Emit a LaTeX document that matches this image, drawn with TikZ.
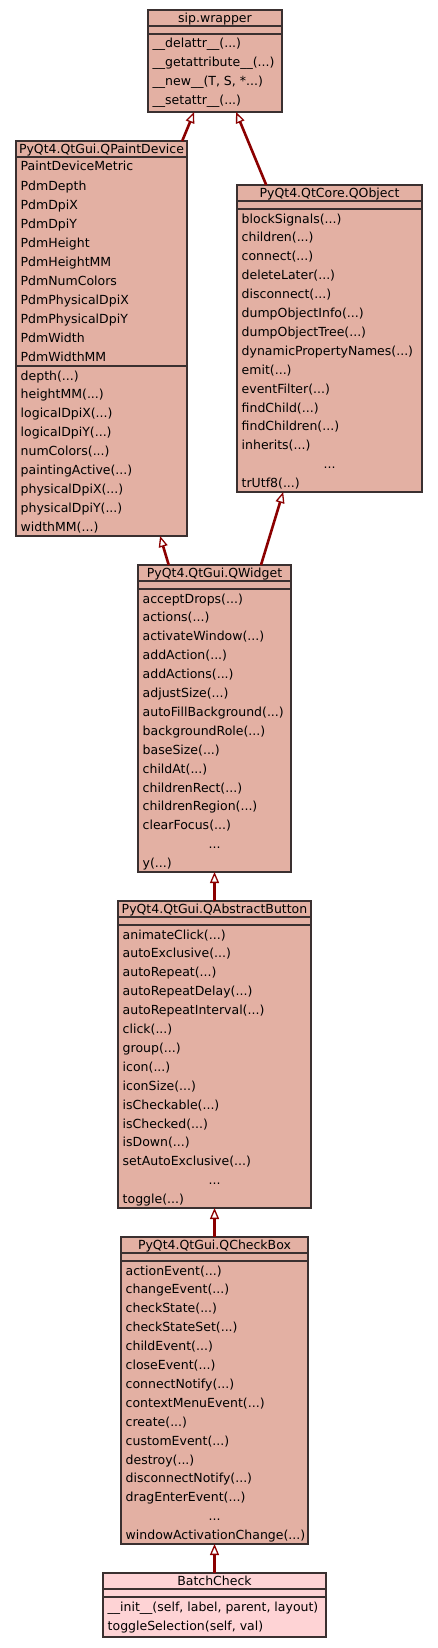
\documentclass[tikz,border=0pt]{standalone}
\usepackage{fontspec}
\setmainfont{DejaVu Sans}
\usetikzlibrary{arrows.meta}
\definecolor{clsfill}{HTML}{E3B0A3}
\definecolor{bcfill}{HTML}{FED3D5}
\definecolor{edgered}{HTML}{8B0000}
\definecolor{bord}{HTML}{3A3030}
\newcommand\dts{...}
\newcommand\midtxt[1]{\makebox[\curw][c]{#1}}
\tikzset{
  cls/.style={draw=bord, line width=1.5pt, inner sep=0pt, outer sep=0pt, anchor=north west},
  sepline/.style={draw=bord, line width=1.3pt},
  txt/.style={anchor=base west, inner sep=0pt, text=black},
  ttl/.style={anchor=base, inner sep=0pt, text=black},
  inh/.style={draw=edgered, line width=2.6pt,
    -{Triangle[fill=white, length=11pt, width=9pt, line width=1.3pt]}}
}
\newcommand\clsbox[9]{%
  \node[cls, fill=#8, minimum width={(#4-#2)*1pt}, minimum height={(#5-#3)*1pt}] (#1) at (#2,#3) {};
  \node[ttl] (#1-title) at ({(#2+#4)/2}, {(#3+#6)/2+4.5}) {#9};
  \draw[sepline] (#2,#6) -- (#4,#6);
  \draw[sepline] (#2,#7) -- (#4,#7);
}
\newcommand\mlist[6]{%
  \pgfmathsetlengthmacro\curw{(#4-9)*1pt}%
  \foreach \t [count=\i from 0] in {#5}
    \node[txt] (#1-\i) at (#2+4.5, #3+14+\i*#6) {\t};
}
\begin{document}
\begin{tikzpicture}[x=1pt, y=-1pt, font=\fontsize{12.5}{14}\selectfont]
\useasboundingbox[fill=white] (0,0) rectangle (437,1648);

% sip.wrapper
\clsbox{sip}{148}{10}{282}{112}{26}{34}{clsfill}{sip.wrapper}
\mlist{sipm}{148}{34}{134}{\_\_delattr\_\_(\dts), \_\_getattribute\_\_(\dts), {\_\_new\_\_(T, S, *\dts)}, \_\_setattr\_\_(\dts)}{19}

% QPaintDevice
\clsbox{pd}{16}{141}{187}{536}{157}{366}{clsfill}{PyQt4.QtGui.QPaintDevice}
\mlist{pda}{16}{157}{171}{PaintDeviceMetric, PdmDepth, PdmDpiX, PdmDpiY, PdmHeight, PdmHeightMM, PdmNumColors, PdmPhysicalDpiX, PdmPhysicalDpiY, PdmWidth, PdmWidthMM}{19}
\mlist{pdm}{16}{366}{171}{depth(\dts), heightMM(\dts), logicalDpiX(\dts), logicalDpiY(\dts), numColors(\dts), paintingActive(\dts), physicalDpiX(\dts), physicalDpiY(\dts), widthMM(\dts)}{18.9}

% QObject
\clsbox{qo}{237}{185}{422}{492}{201}{209}{clsfill}{PyQt4.QtCore.QObject}
\mlist{qom}{237}{209}{185}{blockSignals(\dts), children(\dts), connect(\dts), deleteLater(\dts), disconnect(\dts), dumpObjectInfo(\dts), dumpObjectTree(\dts), dynamicPropertyNames(\dts), emit(\dts), eventFilter(\dts), findChild(\dts), findChildren(\dts), inherits(\dts), \midtxt{\dts}, trUtf8(\dts)}{18.9}

% QWidget
\clsbox{qw}{138}{565}{291}{872}{581}{589}{clsfill}{PyQt4.QtGui.QWidget}
\mlist{qwm}{138}{589}{153}{acceptDrops(\dts), actions(\dts), activateWindow(\dts), addAction(\dts), addActions(\dts), adjustSize(\dts), autoFillBackground(\dts), backgroundRole(\dts), baseSize(\dts), childAt(\dts), childrenRect(\dts), childrenRegion(\dts), clearFocus(\dts), \midtxt{\dts}, y(\dts)}{18.9}

% QAbstractButton
\clsbox{qab}{118}{901}{311}{1208}{917}{925}{clsfill}{PyQt4.QtGui.QAbstractButton}
\mlist{qabm}{118}{925}{193}{animateClick(\dts), autoExclusive(\dts), autoRepeat(\dts), autoRepeatDelay(\dts), autoRepeatInterval(\dts), click(\dts), group(\dts), icon(\dts), iconSize(\dts), isCheckable(\dts), isChecked(\dts), isDown(\dts), setAutoExclusive(\dts), \midtxt{\dts}, toggle(\dts)}{18.9}

% QCheckBox
\clsbox{qcb}{121}{1237}{308}{1544}{1253}{1261}{clsfill}{PyQt4.QtGui.QCheckBox}
\mlist{qcbm}{121}{1261}{187}{actionEvent(\dts), changeEvent(\dts), checkState(\dts), checkStateSet(\dts), childEvent(\dts), closeEvent(\dts), connectNotify(\dts), contextMenuEvent(\dts), create(\dts), customEvent(\dts), destroy(\dts), disconnectNotify(\dts), dragEnterEvent(\dts), \midtxt{\dts}, windowActivationChange(\dts)}{18.9}

% BatchCheck
\clsbox{bc}{103}{1573}{326}{1637}{1589}{1597}{bcfill}{BatchCheck}
\mlist{bcm}{103}{1597}{223}{{\_\_init\_\_(self, label, parent, layout)}, {toggleSelection(self, val)}}{19}

% inheritance
\draw[inh] (pd) -- (sip);
\draw[inh] (qo) -- (sip);
\draw[inh] (qw) -- (pd);
\draw[inh] (qw) -- (qo);
\draw[inh] (qab) -- (qw);
\draw[inh] (qcb) -- (qab);
\draw[inh] (bc) -- (qcb);
\end{tikzpicture}
\end{document}
